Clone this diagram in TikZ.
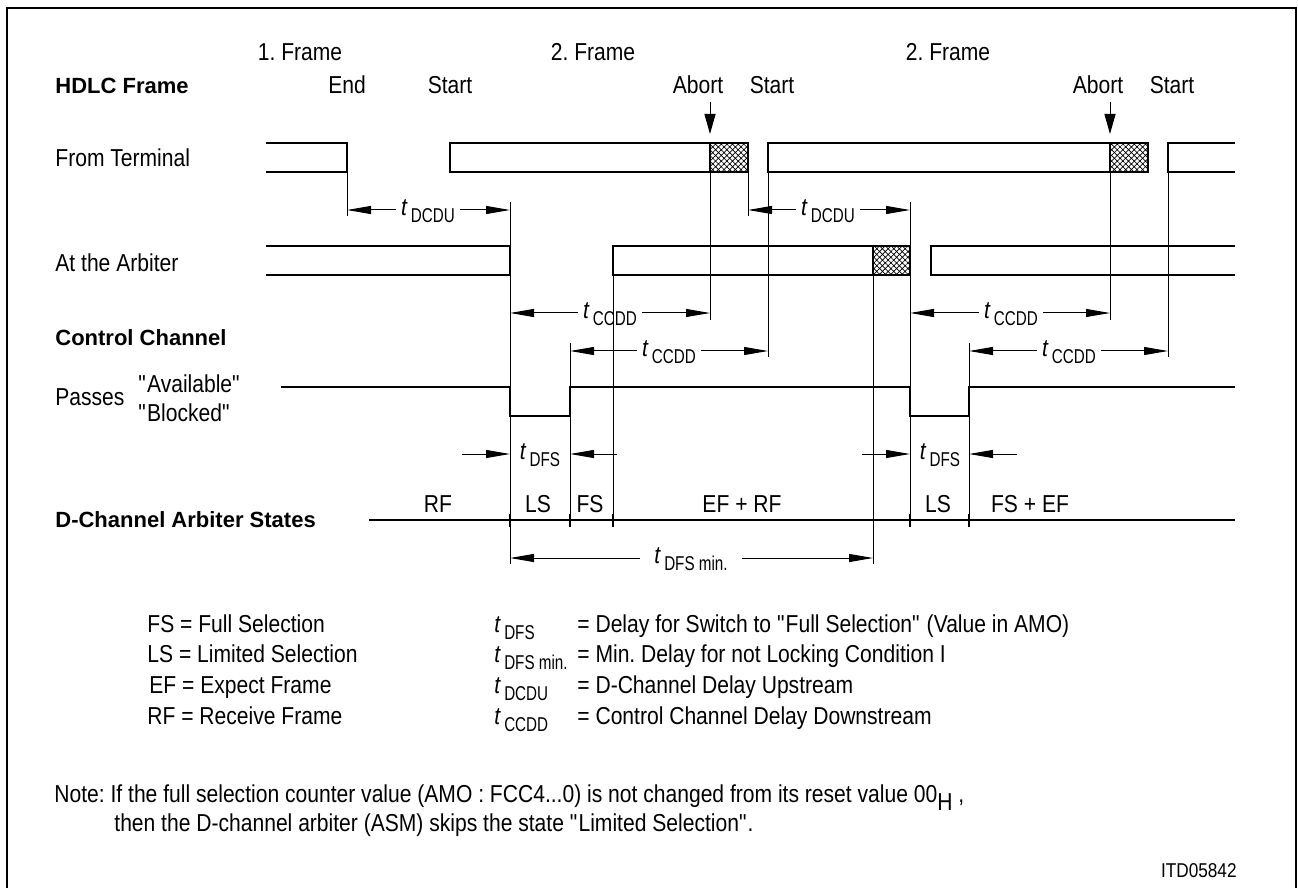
\documentclass[tikz,border=0pt]{standalone}
\usepackage{fontspec}
\setmainfont{Liberation Sans}
\newfontfamily\narrowfont{Liberation Sans}[FakeStretch=0.86]
\newfontfamily\subfont{Liberation Sans}[FakeStretch=0.76]
\usetikzlibrary{arrows.meta,patterns.meta}
\frenchspacing
% delay symbol: italic t with a lowered condensed index
\newcommand{\tdel}[1]{{\itshape t}\hspace{2pt}\raisebox{-3.5pt}{\subfont\fontsize{10}{10}\selectfont #1}}
% straight double quote, kept out of the TeX mapping
\newcommand{\dquote}{\XeTeXglyph\XeTeXcharglyph"22\relax}

\begin{document}
\begin{tikzpicture}[x=0.5pt, y=-0.5pt, >={Triangle[length=12pt,width=4pt]},
  sig/.style={line width=1.35pt},
  guide/.style={line width=0.5pt},
  dim/.style={line width=0.5pt, ->},
  abortarr/.style={line width=0.5pt, -{Triangle[length=10pt,width=5.5pt]}},
  hatch/.style={pattern={Hatch[angle=45,distance=2pt,line width=0.35pt]}},
  txt/.style={font=\narrowfont\fontsize{12.25}{14}\selectfont, inner sep=0pt},
  head/.style={font=\bfseries\fontsize{11}{13}\selectfont, inner sep=0pt},
  tlbl/.style={font=\narrowfont\fontsize{12.25}{14}\selectfont,
    inner xsep=2.5pt, inner ysep=0pt, anchor=mid}]
\useasboundingbox (0,0) rectangle (1298,888);
\draw[line width=1.35pt] (7,888) -- (7,8) -- (1296,8) -- (1296,888);

% time marks
\coordinate (tEnd1) at (347,0);
\coordinate (arEnd1) at (510,0);
\coordinate (ccUp1) at (570,0);
\coordinate (arSt2) at (613,0);
\coordinate (ab1) at (710,0);
\coordinate (tEnd2) at (748,0);
\coordinate (tSt3) at (768,0);
\coordinate (arAb2) at (873,0);
\coordinate (arEnd2) at (910,0);
\coordinate (ccUp2) at (969,0);
\coordinate (ab2) at (1110,0);
\coordinate (tSt4) at (1168,0);

% frame labels
\node[txt, anchor=base] (fr1) at (300,61) {1. Frame};
\node[txt, anchor=base] (fr2) at (593,61) {2. Frame};
\node[txt, anchor=base] (fr3) at (948,61) {2. Frame};
\node[head, anchor=base west] (hdlc) at (55,94) {HDLC Frame};
\node[txt, anchor=base] (end1) at (347,94) {End};
\node[txt, anchor=base] (start1) at (450,94) {Start};
\node[txt, anchor=base] (abort1) at (698,94) {Abort};
\node[txt, anchor=base] (start2) at (772,94) {Start};
\node[txt, anchor=base] (abort2) at (1098,94) {Abort};
\node[txt, anchor=base] (start3) at (1172,94) {Start};

% row labels
\node[txt, anchor=base west] (term) at (55,167) {From Terminal};
\node[txt, anchor=base west] (arb) at (55,271) {At the Arbiter};
\node[head, anchor=base west] (ctrl) at (55,345) {Control Channel};
\node[txt, anchor=base west] (pass) at (55,405) {Passes};
\node[txt, anchor=base west] (avail) at (138,393) {\dquote Available\dquote};
\node[txt, anchor=base west] (block) at (138,422) {\dquote Blocked\dquote};
\node[head, anchor=base west] (dstates) at (55,527) {D-Channel Arbiter States};

% from terminal
\draw[sig] (266,143) -| (347,172) -- (266,172);
\fill[hatch] (710,143) rectangle (748,172);
\draw[sig] (450,143) rectangle (748,172);
\draw[sig] (710,143) -- (710,172);
\fill[hatch] (1110,143) rectangle (1148,172);
\draw[sig] (768,143) rectangle (1148,172);
\draw[sig] (1110,143) -- (1110,172);
\draw[sig] (1235,143) -- (1168,143) |- (1235,172);

% at the arbiter
\draw[sig] (266,246) -| (510,275) -- (266,275);
\fill[hatch] (873,246) rectangle (910,275);
\draw[sig] (613,246) rectangle (910,275);
\draw[sig] (873,246) -- (873,275);
\draw[sig] (1235,246) -- (931,246) |- (1235,275);

% control channel
\draw[sig] (281,387) -- (510,387) -- (510,416) -- (570,416) -- (570,387)
  -- (910,387) -- (910,416) -- (969,416) -- (969,387) -- (1235,387);

% arbiter states
\draw[sig] (369,520) -- (1235,520);
\draw[sig] (510,514) -- (510,527);
\draw[sig] (570,514) -- (570,527);
\draw[sig] (613,514) -- (613,527);
\draw[sig] (910,514) -- (910,527);
\draw[sig] (969,514) -- (969,527);
\node[txt, anchor=base] (rf) at (438,512) {RF};
\node[txt, anchor=base] (ls1) at (538,512) {LS};
\node[txt, anchor=base] (fs1) at (590,512) {FS};
\node[txt, anchor=base] (efrf) at (742,512) {EF + RF};
\node[txt, anchor=base] (ls2) at (938,512) {LS};
\node[txt, anchor=base] (fsef) at (1030,512) {FS + EF};

% guide lines
\draw[guide] (347,172) -- (347,216);
\draw[guide] (510,202) -- (510,564);
\draw[guide] (570,343) -- (570,527);
\draw[guide] (613,275) -- (613,527);
\draw[guide] (710,172) -- (710,320);
\draw[guide] (748,172) -- (748,216);
\draw[guide] (768,172) -- (768,357);
\draw[guide] (873,275) -- (873,564);
\draw[guide] (910,202) -- (910,527);
\draw[guide] (969,343) -- (969,527);
\draw[guide] (1110,172) -- (1110,320);
\draw[guide] (1168,172) -- (1168,357);

% abort marks
\draw[abortarr] (ab1 |- 0,102) -- (ab1 |- 0,134);
\draw[abortarr] (ab2 |- 0,102) -- (ab2 |- 0,134);

% delays
\node[tlbl] (dcdu1) at (428,210) {\tdel{DCDU}};
\draw[dim] (dcdu1.mid west) -- (dcdu1.mid west -| tEnd1);
\draw[dim] (dcdu1.mid east) -- (dcdu1.mid east -| arEnd1);
\node[tlbl] (dcdu2) at (828,210) {\tdel{DCDU}};
\draw[dim] (dcdu2.mid west) -- (dcdu2.mid west -| tEnd2);
\draw[dim] (dcdu2.mid east) -- (dcdu2.mid east -| arEnd2);
\node[tlbl] (ccdd1) at (610,313) {\tdel{CCDD}};
\draw[dim] (ccdd1.mid west) -- (ccdd1.mid west -| arEnd1);
\draw[dim] (ccdd1.mid east) -- (ccdd1.mid east -| ab1);
\node[tlbl] (ccdd2) at (669,351) {\tdel{CCDD}};
\draw[dim] (ccdd2.mid west) -- (ccdd2.mid west -| ccUp1);
\draw[dim] (ccdd2.mid east) -- (ccdd2.mid east -| tSt3);
\node[tlbl] (ccdd3) at (1011,313) {\tdel{CCDD}};
\draw[dim] (ccdd3.mid west) -- (ccdd3.mid west -| arEnd2);
\draw[dim] (ccdd3.mid east) -- (ccdd3.mid east -| ab2);
\node[tlbl] (ccdd4) at (1069,351) {\tdel{CCDD}};
\draw[dim] (ccdd4.mid west) -- (ccdd4.mid west -| ccUp2);
\draw[dim] (ccdd4.mid east) -- (ccdd4.mid east -| tSt4);
\node[tlbl] (dfs1) at (540,454) {\tdel{DFS}};
\coordinate (dfs1a) at (462,454);
\coordinate (dfs1b) at (617,454);
\draw[dim] (dfs1a) -- (dfs1a -| arEnd1);
\draw[dim] (dfs1b) -- (dfs1b -| ccUp1);
\node[tlbl] (dfs2) at (940,454) {\tdel{DFS}};
\coordinate (dfs2a) at (862,454);
\coordinate (dfs2b) at (1017,454);
\draw[dim] (dfs2a) -- (dfs2a -| arEnd2);
\draw[dim] (dfs2b) -- (dfs2b -| ccUp2);
\node[tlbl, inner xsep=7pt] (dfsmin) at (691,558) {\tdel{DFS min.}};
\draw[dim] (dfsmin.mid west) -- (dfsmin.mid west -| arEnd1);
\draw[dim] (dfsmin.mid east) -- (dfsmin.mid east -| arAb2);

% legend
\node[txt, anchor=base west] (lgfs) at (147,632) {FS = Full Selection};
\node[txt, anchor=base west] (lgls) at (147,662) {LS = Limited Selection};
\node[txt, anchor=base west] (lgef) at (149,693) {EF = Expect Frame};
\node[txt, anchor=base west] (lgrf) at (147,724) {RF = Receive Frame};
\node[txt, anchor=base west] (lgt1) at (494,632) {\tdel{DFS}};
\node[txt, anchor=base west] (lgt2) at (494,662) {\tdel{DFS min.}};
\node[txt, anchor=base west] (lgt3) at (494,693) {\tdel{DCDU}};
\node[txt, anchor=base west] (lgt4) at (494,724) {\tdel{CCDD}};
\node[txt, anchor=base west] (lgd1) at (577,632) {= Delay for Switch to \dquote Full Selection\dquote\ (Value in AMO)};
\node[txt, anchor=base west] (lgd2) at (577,662) {= Min. Delay for not Locking Condition I};
\node[txt, anchor=base west] (lgd3) at (577,693) {= D-Channel Delay Upstream};
\node[txt, anchor=base west] (lgd4) at (577,724) {= Control Channel Delay Downstream};

% note
\node[txt, anchor=base west] (note1) at (54,802) {Note: If the full selection counter value (AMO : FCC4...0) is not changed from its reset value 00\raisebox{-4pt}{H} ,};
\node[txt, anchor=base west] (note2) at (114,831) {then the D-channel arbiter (ASM) skips the state \dquote Limited Selection\dquote.};
\node[txt, anchor=base east, font=\narrowfont\fontsize{10}{12}\selectfont] (itd) at (1237,877) {ITD05842};
\end{tikzpicture}
\end{document}
